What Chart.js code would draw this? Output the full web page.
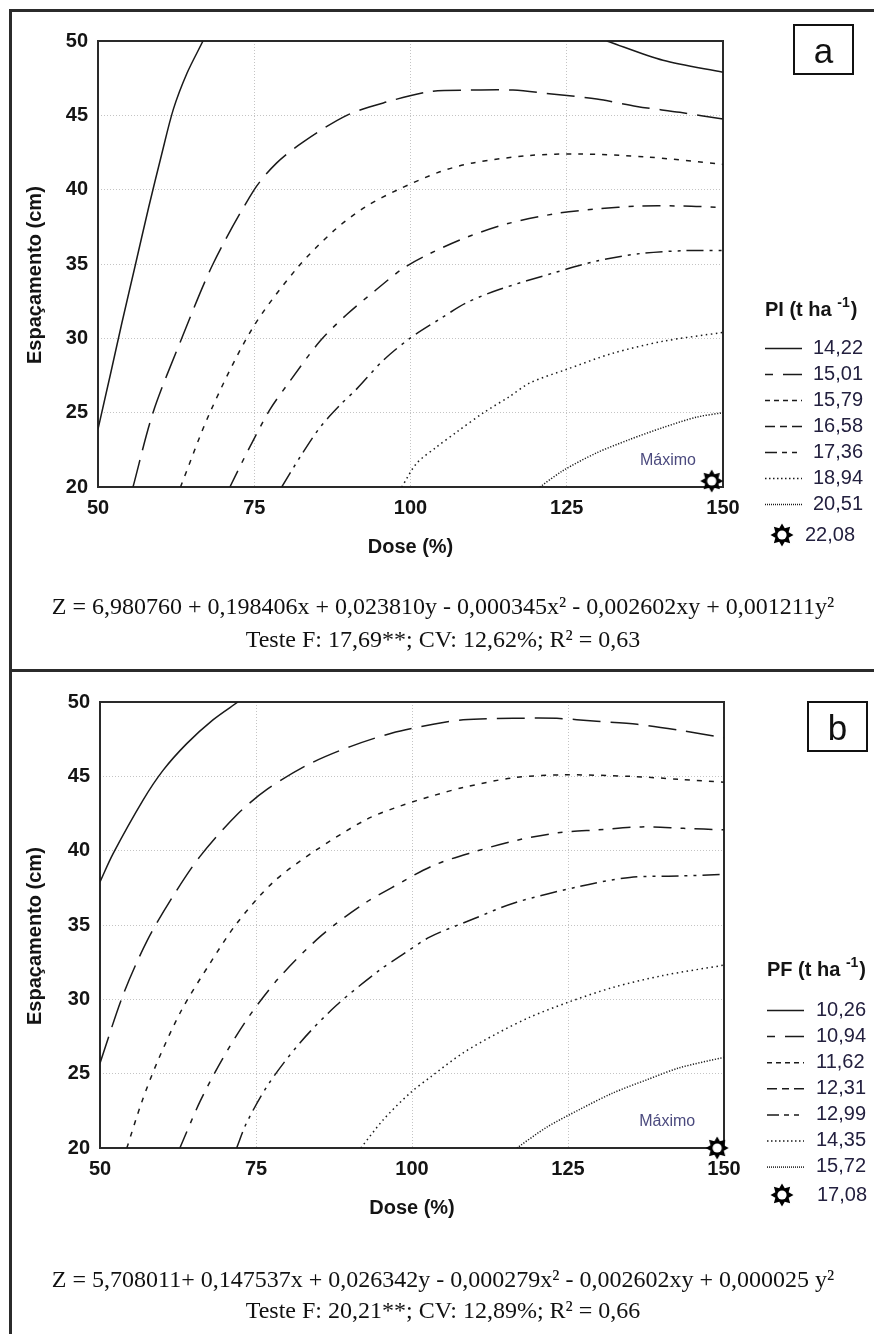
<!DOCTYPE html>
<html><head><meta charset="utf-8">
<script src="https://cdn.jsdelivr.net/npm/chart.js@4.4.1/dist/chart.umd.min.js"></script>
<style>
html,body{margin:0;padding:0;background:#fff;}
body{width:874px;height:1334px;position:relative;overflow:hidden;font-family:'Liberation Sans',Arial,sans-serif;}
.frame{position:absolute;background:#2b2b2b;}
.cv{position:absolute;left:0;width:874px;}
.eq{position:absolute;left:0;width:886px;text-align:center;font-family:'Liberation Serif','Times New Roman',serif;font-size:24px;line-height:26px;color:#111;white-space:nowrap;}
.tag{position:absolute;border:2px solid #111;box-sizing:border-box;width:61px;height:51px;text-align:center;font-size:35px;line-height:54px;color:#111;overflow:visible;font-family:'Liberation Sans',Arial,sans-serif;}
.tag span{position:relative;top:-2px;}
</style></head><body>
<div class="frame" style="left:9px;top:9px;width:865px;height:3px"></div>
<div class="frame" style="left:9px;top:9px;width:3px;height:1325px"></div>
<div class="frame" style="left:9px;top:669px;width:865px;height:3px"></div>
<div class="cv" style="top:0;height:671px"><canvas id="chartA"></canvas></div>
<div class="cv" style="top:671px;height:663px"><canvas id="chartB"></canvas></div>
<div class="tag" style="left:793px;top:24px"><span>a</span></div>
<div class="tag" style="left:807px;top:701px"><span>b</span></div>
<div class="eq" style="top:593px">Z = 6,980760 + 0,198406x + 0,023810y - 0,000345x² - 0,002602xy + 0,001211y²</div>
<div class="eq" style="top:626px">Teste F: 17,69**; CV: 12,62%; R² = 0,63</div>
<div class="eq" style="top:1266px">Z = 5,708011+ 0,147537x + 0,026342y - 0,000279x² - 0,002602xy + 0,000025 y²</div>
<div class="eq" style="top:1297px">Teste F: 20,21**; CV: 12,89%; R² = 0,66</div>
<script>
// ---------- data ----------
const doseTicks = [50, 75, 100, 125, 150];
const spacingTicks = [20, 25, 30, 35, 40, 45, 50];

// Panel a: PI (t ha-1)  — contour points [dose, spacing]
const levelsA = ['14,22', '15,01', '15,79', '16,58', '17,36', '18,94', '20,51'];
const maximumA = '22,08';
const maximumPointA = [148.2, 20.4];
const a1422Left = [[50, 23.9], [52.0, 27.6], [53.8, 31.0], [55.9, 34.8], [58.1, 38.8], [60.2, 42.4], [62.05, 45.4], [64.2, 47.8], [66.8, 50]];
const a1422Right = [[131.4, 50], [140.4, 48.7], [150, 47.9]];
const a1501 = [[55.6, 20], [58.8, 25], [63.4, 30], [68.4, 35], [75.0, 40], [78.6, 41.8], [82.8, 43.2], [89.8, 45], [96.2, 45.9], [103.1, 46.6], [109.5, 46.7], [116.4, 46.7], [123.4, 46.4], [129.8, 46.1], [136.2, 45.6], [143.1, 45.2], [150, 44.75]];
const a1579 = [[63.2, 20], [67.9, 25], [74.6, 30.6], [81.8, 34.7], [87.9, 37.3], [93.0, 38.9], [98.0, 40.0], [104.7, 41.2], [110, 41.8], [119.1, 42.3], [127.1, 42.4], [137.8, 42.2], [150, 41.7]];
const a1658 = [[71.1, 20], [74.3, 22.7], [77.5, 25.2], [80.5, 27.0], [85.5, 29.8], [89.8, 31.6], [94.6, 33.3], [98.8, 34.7], [103.1, 35.7], [109.0, 36.8], [115.4, 37.7], [123.4, 38.4], [129.8, 38.7], [136.7, 38.9], [143.6, 38.9], [150, 38.8]];
const a1736 = [[79.4, 20], [82.3, 22.0], [85.5, 24.0], [88.7, 25.5], [91.4, 26.6], [95.6, 28.5], [99.9, 30.0], [104.7, 31.3], [109.0, 32.4], [114.3, 33.3], [122.9, 34.4], [129.8, 35.2], [136.7, 35.7], [143.9, 35.9], [150, 35.9]];
const a1894 = [[98.6, 20], [101.0, 21.6], [104.2, 22.7], [107.4, 23.7], [111.7, 25.0], [115.9, 26.1], [119.1, 27.0], [124.9, 27.9], [132.4, 29.0], [140.4, 29.8], [150, 30.4]];
const a2051 = [[120.7, 20], [124.4, 21.1], [129.8, 22.3], [135.1, 23.2], [140.4, 24.0], [145.8, 24.7], [150, 25.0]];

// Panel b: PF (t ha-1)
const levelsB = ['10,26', '10,94', '11,62', '12,31', '12,99', '14,35', '15,72'];
const maximumB = '17,08';
const maximumPointB = [148.9, 20.0];
const b1026 = [[50, 37.9], [52.1, 39.8], [56.9, 43.4], [60.1, 45.4], [63.9, 47.2], [68.1, 48.8], [72.1, 50]];
const b1094 = [[50, 25.7], [53.7, 30.3], [57.5, 33.9], [61.5, 36.8], [66.0, 39.6], [71.9, 42.4], [76.7, 44.1], [83.4, 45.8], [90.1, 47.0], [96.7, 47.9], [103.4, 48.5], [108.2, 48.8], [116.2, 48.9], [123.2, 48.9], [129.6, 48.7], [136.1, 48.5], [142.9, 48.1], [150, 47.6]];
const b1162 = [[54.3, 20], [56.7, 23.1], [59.3, 25.9], [63.1, 29.3], [67.6, 32.4], [71.9, 35.1], [77.8, 37.9], [84.5, 40.0], [92.7, 42.1], [98.1, 43.0], [103.4, 43.7], [108.2, 44.25], [116.2, 44.9], [124.2, 45.1], [134.9, 45.0], [142.9, 44.8], [150, 44.6]];
const b1231 = [[62.8, 20], [66.0, 23.1], [69.5, 25.9], [73.8, 28.8], [78.8, 31.5], [85.5, 34.3], [92.2, 36.4], [96.7, 37.5], [103.4, 39.0], [109.8, 39.9], [116.8, 40.7], [123.4, 41.2], [129.9, 41.4], [136.8, 41.6], [143.5, 41.5], [150, 41.4]];
const b1299 = [[71.9, 20], [73.5, 21.7], [77.0, 24.3], [82.1, 27.1], [87.9, 29.6], [94.9, 32.0], [98.1, 32.9], [102.9, 34.2], [109.8, 35.4], [116.5, 36.5], [126.9, 37.6], [134.9, 38.2], [142.9, 38.3], [150, 38.4]];
const b1435 = [[91.8, 20], [95.4, 21.9], [99.7, 23.7], [103.2, 24.85], [108.2, 26.4], [113.6, 27.7], [118.9, 28.8], [125.0, 29.8], [132.2, 30.8], [140.2, 31.6], [150, 32.3]];
const b1572 = [[116.8, 20], [121.6, 21.4], [126.9, 22.6], [132.2, 23.7], [137.7, 24.6], [142.9, 25.4], [150, 26.1]];

const contoursA = [[a1422Left, a1422Right], [a1501], [a1579], [a1658], [a1736], [a1894], [a2051]];
const contoursB = [[b1026], [b1094], [b1162], [b1231], [b1299], [b1435], [b1572]];

// ---------- styles ----------
const SANS = "'Liberation Sans', Arial, sans-serif";
const lineDashes = [[], [28, 10], [5, 7], [18, 9, 5, 9], [17, 6, 3, 6, 3, 6], [1.5, 3.5], [1.2, 1.6]];
const legendDashes = [[], [28, 10], [5, 4], [10, 5, 7, 5], [12, 5, 5, 5, 5, 5], [1.5, 2.5], [1, 1]];
const legendDashOffsets = [0, 20, 0, 0, 0, 0, 0];
const lineColor = '#1a1a1a';

// star marker image
const starImg = document.createElement('canvas');
starImg.width = 26; starImg.height = 26;
(function () {
  const c = starImg.getContext('2d');
  c.beginPath();
  for (let i = 0; i < 16; i++) {
    const r = i % 2 === 0 ? 11.5 : 7.2;
    const a = -Math.PI / 2 + i * Math.PI / 8;
    const px = 13 + r * Math.cos(a), py = 13 + r * Math.sin(a);
    if (i === 0) c.moveTo(px, py); else c.lineTo(px, py);
  }
  c.closePath();
  c.fillStyle = '#000'; c.fill();
  c.beginPath(); c.arc(13, 13, 4.6, 0, Math.PI * 2); c.fillStyle = '#fff'; c.fill();
})();

function buildDatasets(contours, maxPoint) {
  const ds = [];
  contours.forEach((pieces, i) => {
    pieces.forEach(piece => {
      ds.push({
        data: piece.map(([x, y]) => ({ x, y })),
        showLine: true, pointRadius: 0, borderColor: lineColor, borderWidth: 1.5,
        borderDash: lineDashes[i], tension: 0.3, fill: false
      });
    });
  });
  ds.push({
    data: [{ x: maxPoint[0], y: maxPoint[1] }],
    pointStyle: starImg, pointRadius: 12, showLine: false, clip: false
  });
  return ds;
}

const framePlugin = {
  id: 'plotFrame',
  beforeDatasetsDraw(chart) {
    const { ctx, chartArea: a } = chart;
    ctx.save();
    ctx.strokeStyle = '#2a2a2a'; ctx.lineWidth = 2;
    ctx.strokeRect(a.left, a.top, a.right - a.left, a.bottom - a.top);
    ctx.restore();
  }
};

const legendPlugin = {
  id: 'contourLegend',
  afterDraw(chart, args, o) {
    const ctx = chart.ctx;
    ctx.save();
    ctx.textBaseline = 'middle'; ctx.textAlign = 'left';
    ctx.fillStyle = '#141414';
    ctx.font = 'bold 20px ' + SANS;
    let x = o.x;
    const main = o.title + ' (t ha ';
    ctx.fillText(main, x, o.titleY);
    x += ctx.measureText(main).width;
    ctx.font = 'bold 14px ' + SANS;
    ctx.fillText('-1', x, o.titleY - 7);
    x += ctx.measureText('-1').width + 1;
    ctx.font = 'bold 20px ' + SANS;
    ctx.fillText(')', x, o.titleY);
    o.labels.forEach((lab, i) => {
      const y = o.rowY0 + i * o.rowStep;
      ctx.save();
      ctx.setLineDash(legendDashes[i]);
      ctx.lineDashOffset = legendDashOffsets[i];
      ctx.lineWidth = 1.5; ctx.strokeStyle = lineColor;
      ctx.beginPath(); ctx.moveTo(o.x, y + 0.5); ctx.lineTo(o.x + 37, y + 0.5); ctx.stroke();
      ctx.restore();
      ctx.font = '20px ' + SANS; ctx.fillStyle = '#23203f';
      ctx.fillText(lab, o.textX, y);
    });
    ctx.drawImage(starImg, o.starX - 13, o.starY - 13);
    ctx.font = '20px ' + SANS; ctx.fillStyle = '#23203f';
    ctx.fillText(o.maxLabel, o.starTextX, o.starY);
    const sx = chart.scales.x, sy = chart.scales.y;
    ctx.font = '16px ' + SANS; ctx.fillStyle = '#4b4a7e'; ctx.textAlign = 'center';
    ctx.fillText('Máximo', sx.getPixelForValue(o.maxTextAt[0]), sy.getPixelForValue(o.maxTextAt[1]));
    ctx.restore();
  }
};

function makeChart(id, contours, maxPoint, geo, legendOpts) {
  return new Chart(document.getElementById(id), {
    type: 'scatter',
    data: { datasets: buildDatasets(contours, maxPoint) },
    plugins: [framePlugin, legendPlugin],
    options: {
      responsive: true, maintainAspectRatio: false, animation: false,
      layout: { padding: geo.padding },
      plugins: { legend: { display: false }, tooltip: { enabled: false }, contourLegend: legendOpts },
      scales: {
        x: {
          type: 'linear', min: 50, max: 150,
          afterBuildTicks: s => { s.ticks = doseTicks.map(v => ({ value: v })); },
          afterFit: s => { s.height = geo.xHeight; },
          grid: { color: '#c4c4c4', lineWidth: 1, drawTicks: false },
          border: { display: false, dash: [1, 2] },
          ticks: { padding: 9, color: '#141414', font: { family: SANS, size: 20, weight: 'bold' }, maxRotation: 0, autoSkip: false },
          title: { display: true, text: 'Dose (%)', color: '#141414', font: { family: SANS, size: 20, weight: 'bold' }, padding: { top: 0, bottom: 0 } }
        },
        y: {
          type: 'linear', min: 20, max: 50,
          afterBuildTicks: s => { s.ticks = spacingTicks.map(v => ({ value: v })); },
          afterFit: s => { s.width = geo.yWidth; },
          grid: { color: '#c4c4c4', lineWidth: 1, drawTicks: false },
          border: { display: false, dash: [1, 2] },
          ticks: { padding: 10, color: '#141414', font: { family: SANS, size: 20, weight: 'bold' }, autoSkip: false },
          title: { display: true, text: 'Espaçamento (cm)    ', color: '#141414', font: { family: SANS, size: 20, weight: 'bold' }, padding: { top: 23, bottom: 0 } }
        }
      }
    }
  });
}

makeChart('chartA', contoursA, maximumPointA,
  { padding: { left: 0, top: 41, right: 151, bottom: 112 }, xHeight: 72, yWidth: 98 },
  { title: 'PI', x: 765, titleY: 310, rowY0: 348, rowStep: 26, textX: 813, labels: levelsA,
    starX: 782, starY: 535, starTextX: 805, maxLabel: maximumA, maxTextAt: [141.2, 21.8] });

makeChart('chartB', contoursB, maximumPointB,
  { padding: { left: 0, top: 31, right: 150, bottom: 114 }, xHeight: 72, yWidth: 100 },
  { title: 'PF', x: 767, titleY: 299, rowY0: 339, rowStep: 26.1, textX: 816, labels: levelsB,
    starX: 782, starY: 524, starTextX: 817, maxLabel: maximumB, maxTextAt: [140.9, 21.8] });
</script>
</body></html>
